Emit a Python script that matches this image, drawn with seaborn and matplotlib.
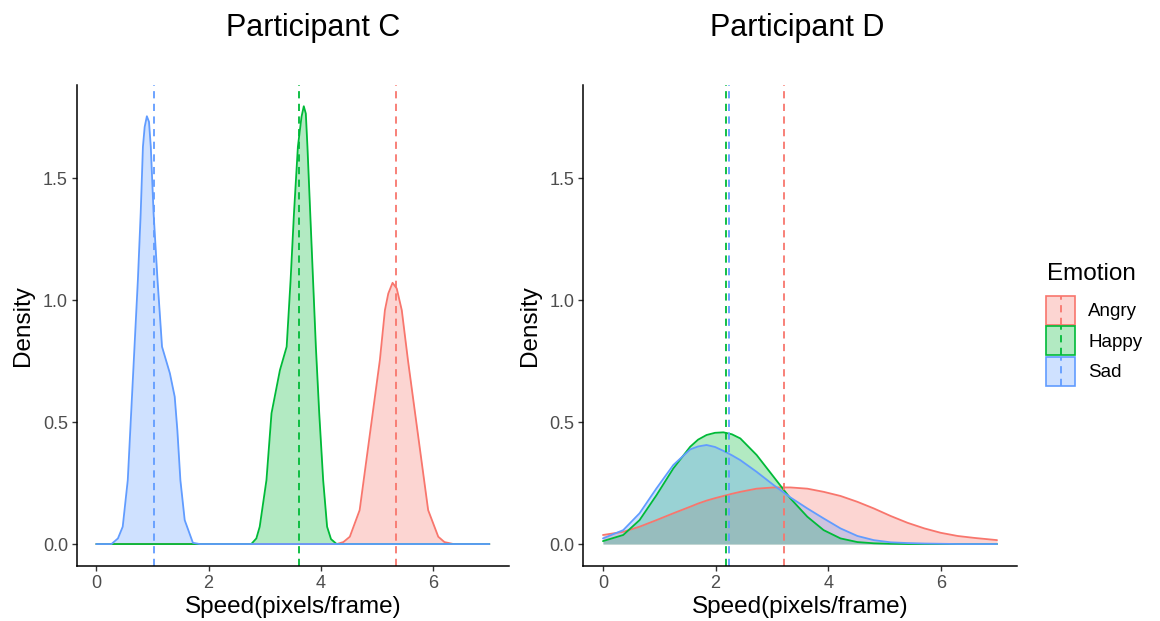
import numpy as np
import pandas as pd
import matplotlib
matplotlib.use("Agg")
import matplotlib.pyplot as plt
import seaborn as sns
from matplotlib.patches import Patch, Rectangle
from matplotlib.lines import Line2D
from matplotlib.legend_handler import HandlerBase

# ---------------- data ----------------
emotions = ["Angry", "Happy", "Sad"]

# Participant C density curves
c_angry_x = [0, 4.28, 4.40, 4.515, 4.69, 4.81, 4.93, 5.05, 5.14, 5.20, 5.276, 5.35, 5.44, 5.55, 5.67, 5.79, 5.91, 6.09, 6.20, 6.36, 7.0]
c_angry_y = [0, 0, 0.008, 0.030, 0.139, 0.344, 0.549, 0.754, 0.959, 1.027, 1.071, 1.048, 0.959, 0.754, 0.549, 0.344, 0.139, 0.030, 0.008, 0, 0]
c_happy_x = [0, 2.76, 2.85, 2.91, 3.03, 3.12, 3.27, 3.39, 3.46, 3.52, 3.59, 3.654, 3.695, 3.731, 3.76, 3.81, 3.86, 3.91, 3.97, 4.04, 4.11, 4.18, 4.28, 7.0]
c_happy_y = [0, 0, 0.023, 0.071, 0.262, 0.536, 0.713, 0.809, 1.082, 1.355, 1.629, 1.751, 1.795, 1.765, 1.629, 1.355, 1.082, 0.809, 0.536, 0.262, 0.071, 0.020, 0, 0]
c_sad_x = [0, 0.27, 0.385, 0.47, 0.56, 0.62, 0.68, 0.74, 0.79, 0.83, 0.861, 0.90, 0.938, 0.97, 1.02, 1.09, 1.17, 1.31, 1.396, 1.443, 1.497, 1.574, 1.72, 1.84, 7.0]
c_sad_y = [0, 0, 0.023, 0.071, 0.262, 0.536, 0.809, 1.082, 1.355, 1.629, 1.710, 1.754, 1.731, 1.629, 1.355, 1.082, 0.809, 0.700, 0.604, 0.467, 0.262, 0.098, 0.005, 0, 0]
c_means = [5.33, 3.61, 1.02]

# Participant D density curves (shared speed grid)
d_x = [0, 0.36, 0.65, 0.95, 1.25, 1.55, 1.69, 1.84, 1.99, 2.14, 2.29, 2.44, 2.73, 3.03, 3.33, 3.63, 3.92, 4.22, 4.52, 4.81, 5.11, 5.41, 5.71, 6.0, 6.3, 6.6, 7.0]
d_angry_y = [0.037, 0.050, 0.071, 0.098, 0.126, 0.153, 0.166, 0.178, 0.188, 0.197, 0.206, 0.214, 0.227, 0.232, 0.232, 0.227, 0.214, 0.197, 0.173, 0.146, 0.115, 0.087, 0.064, 0.046, 0.033, 0.025, 0.016]
d_happy_y = [0.012, 0.037, 0.098, 0.200, 0.310, 0.399, 0.428, 0.447, 0.456, 0.458, 0.450, 0.433, 0.365, 0.276, 0.187, 0.112, 0.057, 0.023, 0.008, 0.003, 0.001, 0, 0, 0, 0, 0, 0]
d_sad_y = [0.023, 0.057, 0.126, 0.228, 0.324, 0.388, 0.400, 0.406, 0.398, 0.382, 0.364, 0.344, 0.296, 0.242, 0.191, 0.146, 0.105, 0.064, 0.033, 0.016, 0.007, 0.004, 0.002, 0.001, 0, 0, 0]
d_means = [3.21, 2.19, 2.245]

x_ticks = [0, 2, 4, 6]
y_ticks = [0.0, 0.5, 1.0, 1.5]
titles = ["Participant C", "Participant D"]
legend_title = "Emotion"

# ---------------- style ----------------
palette = dict(zip(emotions, ["#F8766D", "#00BA38", "#619CFF"]))
sns.set_theme(style="white")
plt.rcParams["font.family"] = ["Liberation Sans", "DejaVu Sans"]
plt.rcParams["text.color"] = "black"

def make_df(xs_list, ys_list):
    frames = []
    for emo, xs, ys in zip(emotions, xs_list, ys_list):
        frames.append(pd.DataFrame({"speed": xs, "density": ys, "emotion": emo}))
    return pd.concat(frames, ignore_index=True)

df_c = make_df([c_angry_x, c_happy_x, c_sad_x], [c_angry_y, c_happy_y, c_sad_y])
df_d = make_df([d_x, d_x, d_x], [d_angry_y, d_happy_y, d_sad_y])

fig = plt.figure(figsize=(11.6, 6.21), dpi=100)
ax1 = fig.add_axes([0.0661, 0.0886, 0.3727, 0.7745])
ax2 = fig.add_axes([0.5028, 0.0886, 0.3737, 0.7745])

for ax, df, means in [(ax1, df_c, c_means), (ax2, df_d, d_means)]:
    for emo in emotions:
        sub = df[df["emotion"] == emo]
        col = palette[emo]
        ax.fill_between(sub["speed"], 0, sub["density"], color=col, alpha=0.3, linewidth=0)
        sns.lineplot(data=sub, x="speed", y="density", color=col, ax=ax,
                     estimator=None, sort=False, linewidth=1.3, legend=False)
    for emo, m in zip(emotions, means):
        ax.axvline(m, color=palette[emo], linestyle=(0, (4, 3)), linewidth=1.3)
    ax.set_xlim(-0.35, 7.35)
    ax.set_ylim(-0.09, 1.882)
    ax.set_xticks(x_ticks)
    ax.set_xticklabels([str(t) for t in x_ticks])
    ax.set_yticks(y_ticks)
    ax.set_yticklabels([f"{t:.1f}" for t in y_ticks])
    ax.set_xlabel("Speed(pixels/frame)", fontsize=17.5, color="black", labelpad=3)
    ax.set_ylabel("Density", fontsize=17.5, color="black", labelpad=6)
    for s in ["top", "right"]:
        ax.spines[s].set_visible(False)
    for s in ["left", "bottom"]:
        ax.spines[s].set_color("black")
        ax.spines[s].set_linewidth(1.1)
    ax.tick_params(axis="both", which="both", direction="out", length=3.8, width=1.0,
                   color="#333333", labelsize=13, labelcolor="#4D4D4D", pad=2.5,
                   bottom=True, left=True)
    ax.grid(False)

fig.text(313 / 1160, 1 - 28 / 621, titles[0], ha="center", va="center", fontsize=22, color="black")
fig.text(797 / 1160, 1 - 28 / 621, titles[1], ha="center", va="center", fontsize=22, color="black")

# ---------------- legend ----------------
class KeyHandler(HandlerBase):
    def create_artists(self, legend, orig_handle, xdescent, ydescent, width, height, fontsize, trans):
        col = orig_handle.get_edgecolor()
        rect = Rectangle((-xdescent, -ydescent), width, height, facecolor=col[:3] + (0.3,),
                         edgecolor=col, linewidth=1.2, transform=trans)
        line = Line2D([-xdescent + width / 2] * 2, [-ydescent, -ydescent + height], color=col,
                      linestyle=(0, (4, 3)), linewidth=1.3, transform=trans)
        return [rect, line]

fig.text(1047 / 1160, 1 - 274 / 621, legend_title, ha="left", va="center", fontsize=17.5, color="black")
handles = [Patch(edgecolor=palette[e], facecolor=palette[e]) for e in emotions]
leg = fig.legend(handles, emotions, loc="upper left", bbox_to_anchor=(1046 / 1160, 1 - 296 / 621),
                 frameon=False, fontsize=13.5, labelcolor="black",
                 handler_map={Patch: KeyHandler()}, handlelength=1.55, handleheight=2.0,
                 labelspacing=0.07, handletextpad=0.7, borderpad=0, borderaxespad=0)

fig.savefig("out.png", dpi=100, facecolor="white")
